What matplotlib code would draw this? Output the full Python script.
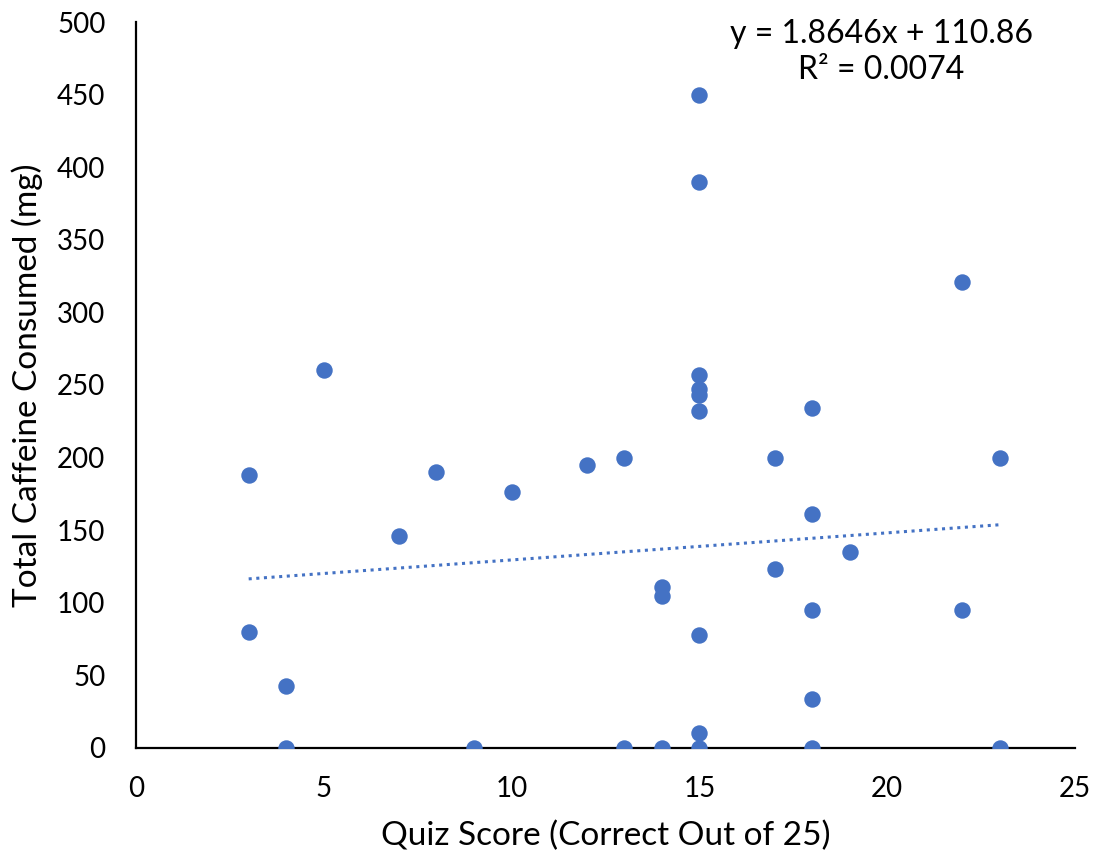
import numpy as np
import matplotlib.pyplot as plt

plt.rcParams['font.family'] = ['Lato', 'DejaVu Sans']

# quiz score vs caffeine intake
score = [3, 3, 4, 4, 5, 7, 8, 9, 10, 12, 13, 13, 14, 14, 14,
         15, 15, 15, 15, 15, 15, 15, 15, 15,
         17, 17, 18, 18, 18, 18, 18, 19, 22, 22, 23, 23]
caffeine = [188, 80, 43, 0, 260, 146, 190, 0, 176, 195, 200, 0, 111, 105, 0,
            450, 390, 257, 247, 243, 232, 78, 10, 0,
            200, 123, 234, 161, 95, 34, 0, 135, 321, 95, 200, 0]

slope = 1.8646
intercept = 110.86
r2 = 0.0074

blue = '#4472C4'

fig = plt.figure(figsize=(11.03, 8.63), dpi=100)
ax = fig.add_axes([0.1233, 0.1333, 0.8513, 0.8412])

ax.scatter(score, caffeine, s=140, color=blue, zorder=3, linewidths=0)

# linear trendline over the data range
xs = np.array([min(score), max(score)])
ax.plot(xs, slope * xs + intercept, color=blue, linestyle=(0, (1, 1.5)),
        linewidth=2.2, zorder=2)

ax.set_xlim(0, 25)
ax.set_ylim(0, 500)
ax.set_xticks(range(0, 26, 5))
ax.set_yticks(range(0, 501, 50))
ax.tick_params(length=0, labelsize=20)
ax.tick_params(axis='x', pad=20)
ax.tick_params(axis='y', pad=22)
for s in ['top', 'right']:
    ax.spines[s].set_visible(False)
for s in ['left', 'bottom']:
    ax.spines[s].set_linewidth(1.6)
    ax.spines[s].set_zorder(1)

ax.set_xlabel('Quiz Score (Correct Out of 25)', fontsize=24, labelpad=14)
ax.set_ylabel('Total Caffeine Consumed (mg)', fontsize=24, labelpad=10)

ax.text(19.85, 502, f'y = {slope}x + {intercept}\nR² = {r2}', ha='center',
        va='top', fontsize=23, linespacing=1.25)

fig.savefig('out.png', dpi=100)
